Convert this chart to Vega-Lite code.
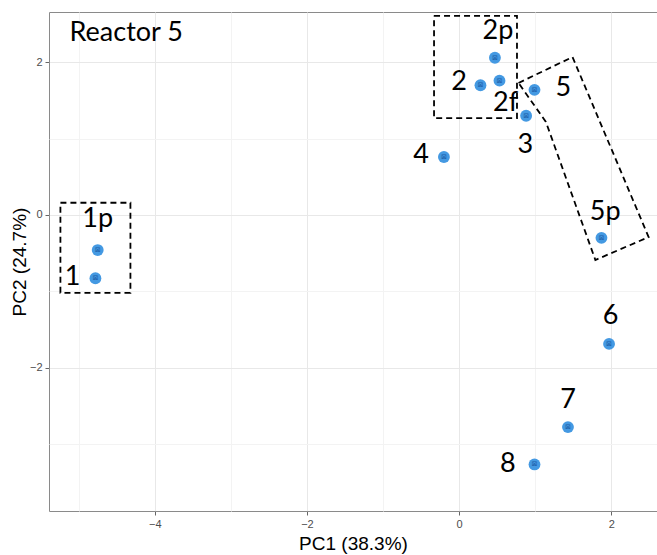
{
  "$schema": "https://vega.github.io/schema/vega-lite/v6.json",
  "width": 608,
  "height": 499,
  "autosize": "none",
  "padding": {"left": 49, "top": 12, "right": 0, "bottom": 44},
  "background": "white",
  "config": {
    "view": {"stroke": "#8a8a8a", "strokeWidth": 1},
    "axis": {"domain": false}
  },
  "datasets": {
    "pts": [
      {"name": "1", "x": -4.78, "y": -0.83},
      {"name": "1p", "x": -4.75, "y": -0.46},
      {"name": "2", "x": 0.28, "y": 1.70},
      {"name": "2f", "x": 0.53, "y": 1.76},
      {"name": "2p", "x": 0.47, "y": 2.06},
      {"name": "3", "x": 0.88, "y": 1.30},
      {"name": "5", "x": 0.99, "y": 1.64},
      {"name": "4", "x": -0.20, "y": 0.76},
      {"name": "5p", "x": 1.87, "y": -0.30},
      {"name": "6", "x": 1.97, "y": -1.69},
      {"name": "7", "x": 1.43, "y": -2.78},
      {"name": "8", "x": 0.99, "y": -3.27}
    ],
    "labels": [
      {"name": "1", "x": -5.08, "y": -0.81},
      {"name": "1p", "x": -4.75, "y": -0.05},
      {"name": "2", "x": 0.0, "y": 1.74},
      {"name": "2p", "x": 0.51, "y": 2.41},
      {"name": "2f", "x": 0.61, "y": 1.47},
      {"name": "3", "x": 0.87, "y": 0.92},
      {"name": "5", "x": 1.37, "y": 1.67},
      {"name": "4", "x": -0.50, "y": 0.79},
      {"name": "5p", "x": 1.92, "y": 0.04},
      {"name": "6", "x": 1.99, "y": -1.32},
      {"name": "7", "x": 1.43, "y": -2.43},
      {"name": "8", "x": 0.64, "y": -3.27}
    ],
    "boxes": [
      {"box": "a", "ord": 1, "x": -5.24, "y": 0.16},
      {"box": "a", "ord": 2, "x": -4.32, "y": 0.16},
      {"box": "a", "ord": 3, "x": -4.32, "y": -1.02},
      {"box": "a", "ord": 4, "x": -5.24, "y": -1.02},
      {"box": "a", "ord": 5, "x": -5.24, "y": 0.16},
      {"box": "b", "ord": 1, "x": -0.33, "y": 2.61},
      {"box": "b", "ord": 2, "x": 0.76, "y": 2.61},
      {"box": "b", "ord": 3, "x": 0.76, "y": 1.27},
      {"box": "b", "ord": 4, "x": -0.33, "y": 1.27},
      {"box": "b", "ord": 5, "x": -0.33, "y": 2.61},
      {"box": "c", "ord": 1, "x": 0.78, "y": 1.73},
      {"box": "c", "ord": 2, "x": 1.49, "y": 2.07},
      {"box": "c", "ord": 3, "x": 2.49, "y": -0.29},
      {"box": "c", "ord": 4, "x": 1.79, "y": -0.59},
      {"box": "c", "ord": 5, "x": 1.14, "y": 1.22},
      {"box": "c", "ord": 6, "x": 0.78, "y": 1.73}
    ],
    "title": [{"name": "Reactor 5", "x": -5.12, "y": 2.39}]
  },
  "layer": [
    {
      "data": {"name": "pts"},
      "mark": {"type": "circle", "size": 140, "opacity": 1, "color": "#4499e2"},
      "encoding": {
        "x": {
          "field": "x", "type": "quantitative",
          "scale": {"domain": [-5.39, 2.6], "nice": false, "zero": false},
          "axis": {
            "title": "PC1 (38.3%)",
            "values": [-5, -4, -3, -2, -1, 0, 1, 2],
            "format": "d",
            "labelExpr": "datum.value % 2 === 0 ? datum.label : ''",
            "tickOpacity": {"condition": {"test": "datum.value % 2 === 0", "value": 1}, "value": 0},
            "gridColor": {"condition": {"test": "datum.value % 2 === 0", "value": "#e8e8e8"}, "value": "#f3f3f3"},
            "tickColor": "#666", "tickSize": 4,
            "labelColor": "#4d4d4d", "labelFontSize": 11, "labelFont": "Liberation Sans", "labelPadding": 3,
            "titleFont": "Liberation Sans", "titleFontSize": 19, "titleFontWeight": "normal", "titleColor": "black", "titlePadding": 5
          }
        },
        "y": {
          "field": "y", "type": "quantitative",
          "scale": {"domain": [-3.88, 2.66], "nice": false, "zero": false},
          "axis": {
            "title": "PC2 (24.7%)",
            "values": [-3, -2, -1, 0, 1, 2],
            "format": "d",
            "labelExpr": "datum.value % 2 === 0 ? datum.label : ''",
            "tickOpacity": {"condition": {"test": "datum.value % 2 === 0", "value": 1}, "value": 0},
            "gridColor": {"condition": {"test": "datum.value % 2 === 0", "value": "#e8e8e8"}, "value": "#f3f3f3"},
            "tickColor": "#666", "tickSize": 4,
            "labelColor": "#4d4d4d", "labelFontSize": 11, "labelFont": "Liberation Sans", "labelPadding": 3,
            "titleFont": "Liberation Sans", "titleFontSize": 19, "titleFontWeight": "normal", "titleColor": "black", "titlePadding": 0
          }
        }
      }
    },
    {
      "data": {"name": "pts"},
      "mark": {"type": "text", "text": "⊠", "fontSize": 7, "color": "#1d5ea8", "font": "DejaVu Sans", "baseline": "middle", "align": "center"},
      "encoding": {
        "x": {"field": "x", "type": "quantitative"},
        "y": {"field": "y", "type": "quantitative"}
      }
    },
    {
      "data": {"name": "boxes"},
      "mark": {"type": "line", "color": "black", "strokeWidth": 1.8, "strokeDash": [6, 4]},
      "encoding": {
        "x": {"field": "x", "type": "quantitative"},
        "y": {"field": "y", "type": "quantitative"},
        "detail": {"field": "box"},
        "order": {"field": "ord", "type": "quantitative"}
      }
    },
    {
      "data": {"name": "labels"},
      "mark": {"type": "text", "fontSize": 27, "font": "Lato", "color": "black", "baseline": "middle", "align": "center"},
      "encoding": {
        "x": {"field": "x", "type": "quantitative"},
        "y": {"field": "y", "type": "quantitative"},
        "text": {"field": "name"}
      }
    },
    {
      "data": {"name": "title"},
      "mark": {"type": "text", "fontSize": 27, "font": "Lato", "color": "black", "baseline": "middle", "align": "left"},
      "encoding": {
        "x": {"field": "x", "type": "quantitative"},
        "y": {"field": "y", "type": "quantitative"},
        "text": {"field": "name"}
      }
    }
  ]
}
